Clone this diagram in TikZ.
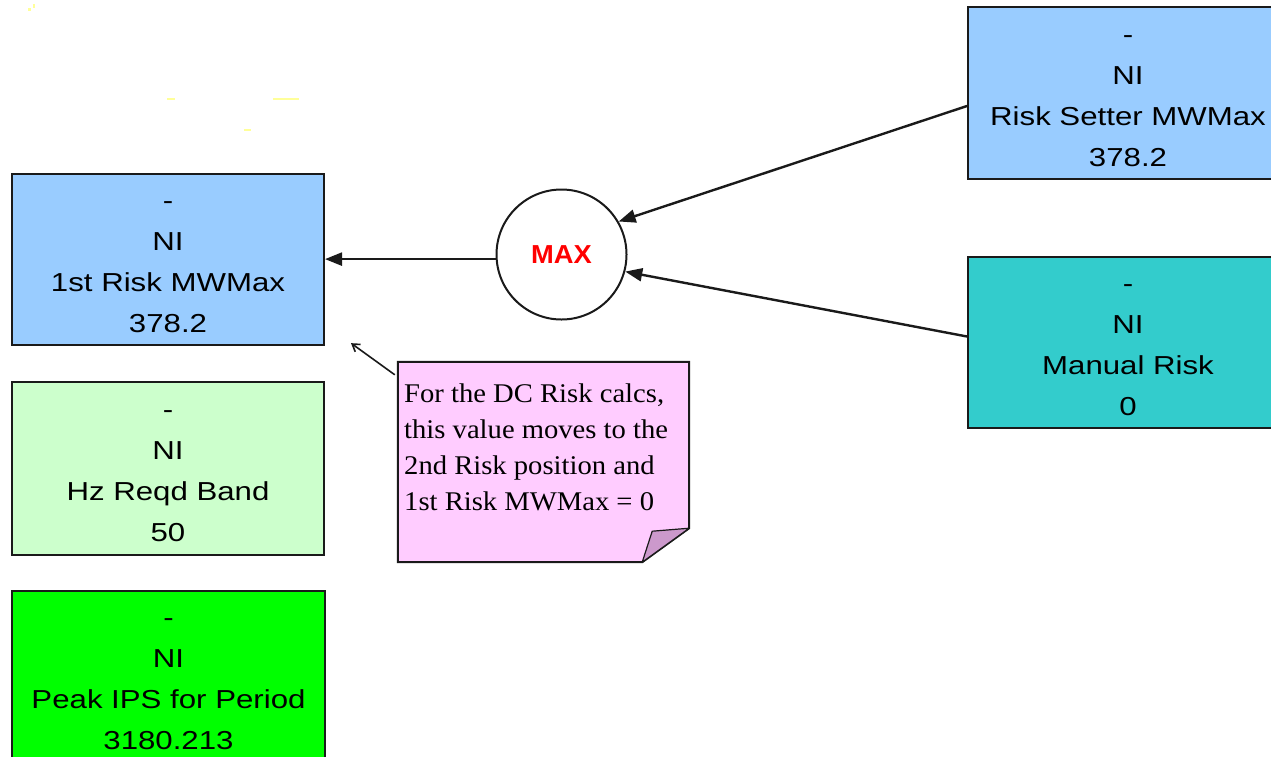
\documentclass[tikz,border=0pt]{standalone}
\usepackage{fontspec}
\usetikzlibrary{arrows.meta}
\newfontfamily\boxfont[FakeStretch=1.2]{Liberation Sans}
\newfontfamily\notefont[FakeStretch=1.06]{Liberation Serif}
\newfontfamily\maxfont[FakeStretch=1.05]{Liberation Sans}
\definecolor{skyfill}{HTML}{99CCFF}
\definecolor{mintfill}{HTML}{CCFFCC}
\definecolor{limefill}{HTML}{00FF00}
\definecolor{tealfill}{HTML}{33CCCC}
\definecolor{notefill}{HTML}{FFCCFF}
\definecolor{foldfill}{HTML}{CC99CC}
\definecolor{speck}{HTML}{FFFF99}
\definecolor{ink}{HTML}{1A1A1A}
% four centred lines of a value box; the first line gets extra head room
\newcommand\fourlines[4]{\rule{0pt}{36pt}#1\\\strut #2\\\strut #3\\\strut #4}
\begin{document}
\begin{tikzpicture}[x=1pt,y=-1pt,
  valbox/.style={draw=ink, line width=2pt, rectangle, inner sep=0pt,
    align=center, font=\boxfont\fontsize{26}{41}\selectfont},
  flow/.style={draw=ink, line width=2.4pt, -{Triangle[length=17pt,width=13pt]}},
  pointer/.style={draw=ink, line width=1.6pt, -{Straight Barb[length=7pt,width=9pt]}},
  notepath/.style={draw=ink, line width=2pt, fill=notefill, line join=miter}]
\useasboundingbox (0,0) rectangle (1271,756);
\fill[white] (0,0) rectangle (1271,756);
\clip (0,0) rectangle (1271,756);

% faint specks near the top left
\fill[speck] (28,8) rectangle (31,11);
\fill[speck] (33,4) rectangle (35,8);
\fill[speck] (167,98) rectangle (175,100);
\fill[speck] (273,98) rectangle (299,100);
\fill[speck] (244,129) rectangle (251,131);

% value boxes
\node[valbox, fill=skyfill, minimum width=312pt, minimum height=165pt]
  (risk1) at (168,259.5) {\fourlines{-}{NI}{1st Risk MWMax}{378.2}};
\node[valbox, fill=mintfill, minimum width=312pt, minimum height=173pt]
  (hzband) at (168,468.5) {\fourlines{-}{NI}{Hz Reqd Band}{50}};
\node[valbox, fill=limefill, minimum width=313pt, minimum height=165pt]
  (peak) at (168.5,676.5) {\fourlines{-}{NI}{Peak IPS for Period}{3180.213}};
\node[valbox, fill=skyfill, minimum width=320pt, minimum height=168pt]
  (setter) at (1128,93) {\fourlines{-}{NI}{Risk Setter MWMax}{378.2}};
\node[valbox, fill=tealfill, minimum width=320pt, minimum height=165pt]
  (manual) at (1128,342.5) {\fourlines{-}{NI}{Manual Risk}{0}};

% MAX operator
\node[circle, draw=ink, line width=2pt, fill=white, minimum size=130pt, inner sep=0pt,
  font=\maxfont\bfseries\fontsize{26}{30}\selectfont, text=red] (max) at (561.5,254.5) {MAX};

% connectors
\draw[flow] ([yshift=-13pt]setter.west) -- (max.30);
\draw[flow] ([yshift=6pt]manual.west) -- (max.-15);
\draw[flow] (max.184) -- (max.184 -| risk1.east);

% sticky note with folded corner
\node[minimum width=291pt, minimum height=200pt, inner sep=0pt] (note) at (543.5,462) {};
\draw[notepath] (note.north west) -- (note.north east) -- ([yshift=34pt]note.south east)
  -- ([xshift=-47pt]note.south east) -- (note.south west) -- cycle;
\filldraw[draw=ink, line width=1.2pt, fill=foldfill, line join=round]
  ([yshift=34pt]note.south east) -- ([xshift=-47pt]note.south east)
  -- ([shift={(-37pt,31pt)}]note.south east) -- cycle;
\node[anchor=north west, inner sep=0pt, align=left,
  font=\notefont\fontsize{27}{36}\selectfont] (notetext) at (404,376.8)
  {\strut For the DC Risk calcs,\\\strut this value moves to the\\\strut 2nd Risk position and\\\strut 1st Risk MWMax = 0};
\draw[pointer] ([shift={(-3pt,-13pt)}]note.north west) -- ([shift={(26pt,3pt)}]risk1.south east);
\end{tikzpicture}
\end{document}
